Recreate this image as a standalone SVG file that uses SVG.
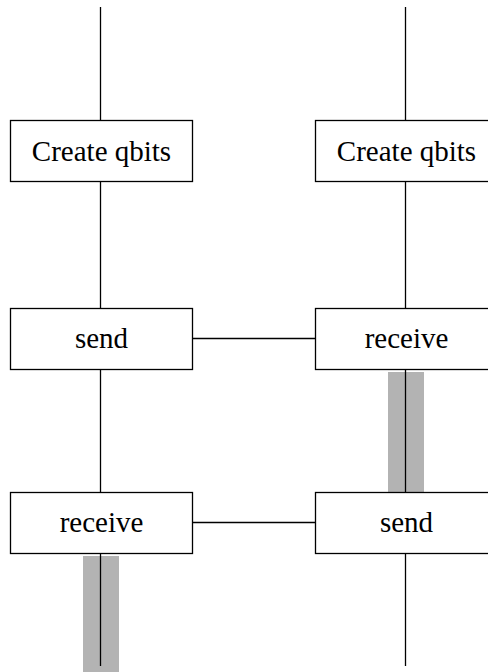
<svg xmlns="http://www.w3.org/2000/svg" width="488" height="672" viewBox="0 0 488 672">
<style>
.box{fill:#fff;stroke:#000;stroke-width:1.3}
.ln{stroke:#000;stroke-width:1.3;fill:none}
.bar{fill:#b3b3b3}
.lbl{font-family:"Liberation Serif","Times New Roman",Times,serif;font-size:29px;fill:#000;text-anchor:middle}
</style>
<rect width="488" height="672" fill="#fff"/>
<g id="activations">
<rect class="bar" x="388" y="372" width="36" height="120"/>
<rect class="bar" x="83" y="556" width="36" height="116"/>
</g>
<g id="connectors">
<line class="ln" x1="100.5" y1="7" x2="100.5" y2="120"/>
<line class="ln" x1="100.5" y1="181" x2="100.5" y2="308"/>
<line class="ln" x1="100.5" y1="369" x2="100.5" y2="492"/>
<line class="ln" x1="100.5" y1="553" x2="100.5" y2="666"/>
<line class="ln" x1="405.5" y1="7" x2="405.5" y2="120"/>
<line class="ln" x1="405.5" y1="181" x2="405.5" y2="308"/>
<line class="ln" x1="405.5" y1="369" x2="405.5" y2="492"/>
<line class="ln" x1="405.5" y1="553" x2="405.5" y2="666"/>
<line class="ln" x1="192" y1="338.5" x2="315" y2="338.5"/>
<line class="ln" x1="192" y1="522.5" x2="315" y2="522.5"/>
</g>
<g id="create-left">
<rect class="box" x="10.5" y="120.5" width="182" height="61"/>
<text class="lbl" x="101.5" y="161">Create qbits</text>
</g>
<g id="create-right">
<rect class="box" x="315.5" y="120.5" width="182" height="61"/>
<text class="lbl" x="406.5" y="161">Create qbits</text>
</g>
<g id="send-left">
<rect class="box" x="10.5" y="308.5" width="182" height="61"/>
<text class="lbl" x="101.5" y="348">send</text>
</g>
<g id="receive-right">
<rect class="box" x="315.5" y="308.5" width="182" height="61"/>
<text class="lbl" x="406.5" y="348">receive</text>
</g>
<g id="receive-left">
<rect class="box" x="10.5" y="492.5" width="182" height="61"/>
<text class="lbl" x="101.5" y="532">receive</text>
</g>
<g id="send-right">
<rect class="box" x="315.5" y="492.5" width="182" height="61"/>
<text class="lbl" x="406.5" y="532">send</text>
</g>
</svg>
